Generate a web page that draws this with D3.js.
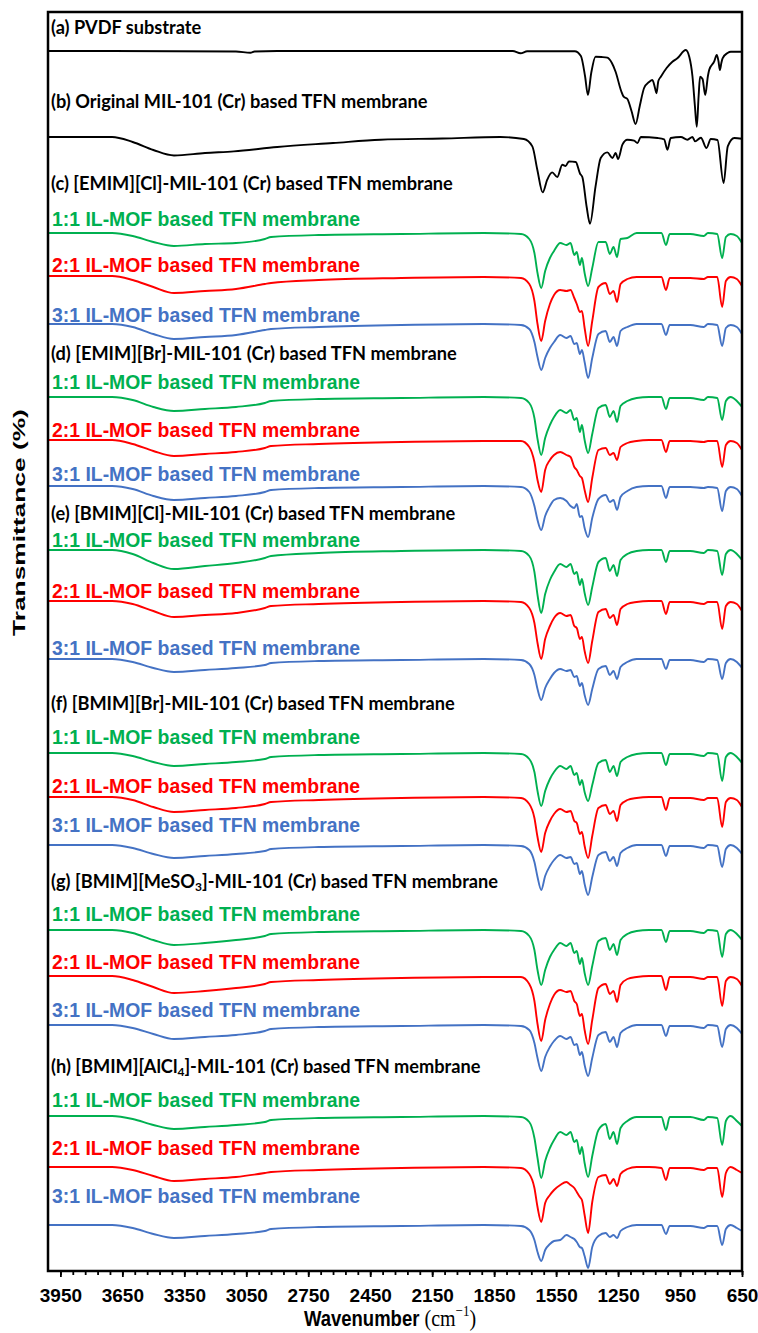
<!DOCTYPE html>
<html>
<head>
<meta charset="utf-8">
<script src="https://cdn.jsdelivr.net/npm/d3@7"></script>
<style>
  body { margin: 0; background: #fff; }
</style>
</head>
<body>
<div id="chart"></div>
<script>
// ---- data (transmittance, %; each trace is 100 on its flat baseline) ----
const wnPVDF = [4010, 3700, 3100, 3030, 3010, 2900, 1760, 1722, 1690, 1460, 1430, 1410, 1396, 1380, 1359, 1330, 1302, 1280, 1262, 1235,
	1223, 1205, 1185, 1165, 1145, 1124, 1100, 1084, 1070, 1064, 1055, 1043, 1015, 987, 963, 922, 905, 890, 878, 869,
	860, 853, 841, 828, 815, 809, 785, 772, 764, 757, 750, 744, 720, 704, 650];
const tPVDF = [100, 100, 99.95, 99.83, 99.95, 100, 100, 99.77, 99.97, 99.97, 99.5, 97.5, 95.6, 97.8, 99.43, 99.4, 99.33, 98.8, 97.93, 96,
	95.43, 95.2, 94, 92.7, 94.5, 96.3, 96.9, 97.1, 96.2, 95.77, 97, 97.43, 98.3, 98.93, 99.27, 100.1, 99.4, 97.5, 94.5, 92.43,
	95.5, 97.43, 97.2, 95.6, 97.5, 98.1, 98.93, 99.6, 99, 98.1, 98.8, 99.27, 99.8, 99.93, 99.93];

const wnMIL = [4010, 3700, 3600, 3500, 3400, 3250, 3110, 2900, 2630, 2400, 2100, 1820, 1706, 1665, 1641, 1615, 1593, 1569, 1544, 1520,
	1504, 1488, 1455, 1434, 1423, 1402, 1386, 1359, 1334, 1302, 1277, 1262, 1250, 1229, 1205, 1172, 1156, 1140, 1059, 1027,
	1011, 995, 946, 914, 890, 877, 849, 822, 801, 769, 739, 719, 687, 650];
const tMIL = [100, 100, 99.5, 98.7, 98.15, 98.4, 98.56, 99, 99.4, 99.73, 99.85, 100, 99.8, 99.06, 96.73, 94.46, 95.73, 96.46, 96, 97.23,
	97.1, 97.56, 97.5, 96.33, 96, 93, 91.33, 95.06, 97.9, 98.46, 97.9, 98.4, 97.8, 99.23, 99.73, 99.63, 99.4, 100, 99.9, 99.77,
	98.73, 99.9, 100, 99.73, 100, 99.56, 99.93, 98.9, 99.8, 99.7, 95.4, 99.06, 99.9, 99.83];

// IL-MOF based membranes share one wavenumber grid
const wnIL = [4010, 3700, 3600, 3500, 3400, 3250, 3100, 2960, 2930, 2700, 2300, 1900, 1720, 1680, 1655, 1640, 1622, 1603, 1580, 1560,
	1530, 1500, 1480, 1462, 1450, 1435, 1425, 1412, 1395, 1375, 1345, 1310, 1290, 1272, 1255, 1238, 1205, 1160, 1100, 1040,
	1018, 1000, 900, 835, 815, 770, 746, 728, 705, 675, 650];

const tC11 = [100,100,99.7,99.1,98.7,98.9,99,99.4,99.6,99.8, 99.9,100,99.9,99.4,98,96,94.5,96.2,97.5,98.2, 99,98.8,99,97.8,98.1,96.8,97.5,96,94.7,96.5, 99.1,99.1,97.9,98.6,97.6,99.4,99.5,100,100,100, 98.8,99.9,99.9,99.7,100,99.9,97.5,99.6,99.9,99.7,99];
const tC21 = [100,100,99.6,98.9,98.3,98.5,98.7,99.2,99.3,99.6, 99.8,99.9,99.8,99.2,97.5,95.2,93.5,95.5,97.2,98.1, 98.6,98.5,98.6,97.8,97.2,96.4,96.5,94.8,93,95.5, 98.9,99.3,98.2,98.5,97.4,99.2,99.7,99.9,99.9,99.9, 98.6,99.8,99.8,99.7,99.9,99.9,96.9,99.5,99.9,99.7,99];
const tC31 = [100,100,99.7,99,98.5,98.7,98.9,99.4,99.5,99.7, 99.9,100,99.9,99.5,98.2,96.7,95.4,96.6,97.6,98.2, 98.9,98.6,98.8,98,98.1,97,97.4,96.2,94.6,96.6, 99,99.3,98.2,98.7,97.8,99.3,99.7,100,100,100, 98.9,99.9,99.9,99.7,100,99.9,97.8,99.6,99.9,99.7,99];

const tD11 = [100,100,99.7,99,98.6,98.8,99,99.4,99.6,99.8, 99.9,100,99.9,99.4,97.9,95.8,94.2,95.9,97.2,98, 98.7,98.4,98.7,97.7,97.9,96.5,97.2,95.7,94.4,96.3, 98.9,99.2,98,98.6,97.5,99.1,99.6,99.9,100,100, 98.8,99.9,99.9,99.7,100,99.9,97.7,99.6,100,99.6,99];
const tD21 = [100,100,99.6,98.9,98.4,98.6,98.8,99.2,99.4,99.6, 99.8,99.9,99.9,99.3,97.8,96,94.8,97,98,98.5, 98.8,98.5,98.3,97.3,97,96.4,96.2,95,93.8,96.2, 99,99.2,98.5,98.7,98,99.3,99.7,99.9,100,100, 98.8,99.9,99.9,99.8,99.9,99.9,97.3,99.5,99.9,99.7,99];
const tD31 = [100,100,99.7,99,98.6,98.8,99,99.4,99.6,99.8, 99.9,100,99.9,99.4,98,96.6,95.6,97,98,98.6, 98.8,98.5,98,97.8,98.2,96.9,97,95.8,94.9,96.8, 98.7,99.1,98.4,98.6,97.6,98.9,99.5,99.9,100,100, 98.8,99.9,99.9,99.8,99.9,99.8,97.5,99.5,99.9,99.7,99];

const tE11 = [100,100,99.6,98.7,98.1,98.4,98.7,99.2,99.4,99.7, 99.9,100,99.9,99.4,97.8,95.5,93.7,95.6,97,97.8, 98.6,98.3,98.6,97.6,97.8,96.5,97.1,95.7,94.5,96.3, 98.8,99.2,97.9,98.5,97.4,99,99.6,99.9,100,100, 98.8,99.9,99.9,99.7,100,99.9,97.5,99.6,100,99.6,99];
const tE21 = [100,100,99.7,99,98.4,98.6,98.8,99.3,99.5,99.7, 99.9,100,99.9,99.3,97.8,95.8,94.2,96.2,97.5,98.3, 98.8,98.5,98.6,97.5,97.3,96.2,96.4,95,93.8,96, 98.9,99.2,98.3,98.6,97.6,99.2,99.7,99.9,100,100, 98.7,99.9,99.9,99.7,99.9,99.9,97.2,99.5,99.9,99.7,99];
const tE31 = [100,100,99.7,99.1,98.7,98.9,99.1,99.4,99.6,99.8, 99.9,100,99.9,99.5,98.4,97,95.9,97.1,98,98.6, 99,98.8,98.9,98.2,98.3,97.3,97.6,96.4,95.4,97, 99,99.3,98.4,98.8,98,99.2,99.7,100,100,100, 99,99.9,99.9,99.7,100,99.9,98,99.6,100,99.7,99.1];

const tF11 = [100,100,99.7,99.1,98.7,98.9,99.1,99.4,99.6,99.8, 99.9,100,99.9,99.4,98.1,96.2,94.7,96.2,97.4,98.1, 98.7,98.4,98.7,97.8,98,96.8,97.3,96.1,95.2,96.8, 99,99.3,98.1,98.7,97.7,99.1,99.6,99.9,100,100, 98.8,99.9,99.9,99.7,100,99.9,97.2,99.6,100,99.6,99];
const tF21 = [100,100,99.7,99,98.5,98.7,98.9,99.3,99.5,99.7, 99.9,100,99.9,99.3,97.9,96,94.5,96.4,97.6,98.3, 98.8,98.5,98.6,97.6,97.4,96.3,96.5,95.1,93.9,96.1, 98.9,99.2,98.3,98.6,97.6,99.2,99.7,99.9,100,100, 98.7,99.9,99.9,99.7,99.9,99.9,97,99.5,99.9,99.7,99];
const tF31 = [100,100,99.7,99.1,98.7,98.9,99.1,99.4,99.6,99.8, 99.9,100,99.9,99.5,98.3,96.8,95.5,96.9,97.9,98.5, 99,98.7,98.8,98.1,98.2,97.1,97.4,96.1,95,96.8, 99,99.3,98.4,98.8,97.9,99.2,99.7,100,100,100, 98.9,99.9,99.9,99.7,100,99.9,97.8,99.6,100,99.7,99.1];

const tG11 = [100,100,99.7,99,98.5,98.7,99,99.4,99.6,99.8, 99.9,100,99.9,99.4,98,96,94.5,96,97.3,98, 98.7,98.4,98.7,97.7,97.9,96.6,97.2,95.7,94.5,96.4, 98.9,99.2,98,98.6,97.5,99,99.6,99.9,100,100, 98.8,99.9,99.9,99.7,100,99.9,97.3,99.6,100,99.6,99];
const tG21 = [100,100,99.6,98.9,98.3,98.5,98.8,99.2,99.4,99.6, 99.8,99.9,99.9,99.2,97.5,95.2,93.5,95.6,97.2,98.1, 98.6,98.4,98.5,97.5,97.2,96,96.2,94.6,93.2,95.6, 98.8,99.2,98.2,98.5,97.4,99.1,99.7,99.9,100,100, 98.6,99.9,99.9,99.7,99.9,99.9,97,99.5,99.9,99.7,99];
const tG31 = [100,100,99.7,99.1,98.6,98.8,99,99.4,99.6,99.8, 99.9,100,99.9,99.5,98.2,96.7,95.4,96.8,97.8,98.4, 98.9,98.6,98.8,98,98.1,97,97.3,96,94.9,96.7, 99,99.3,98.3,98.8,97.8,99.2,99.7,100,100,100, 98.9,99.9,99.9,99.7,100,99.9,97.8,99.6,100,99.7,99.1];

const tH11 = [100,100,99.7,99.1,98.7,98.9,99.1,99.4,99.6,99.8, 99.9,100,99.9,99.4,97.8,95.8,93.8,95.5,96.8,97.6, 98.4,98.1,98.4,97.4,97.6,96.2,96.9,95.3,93.9,96, 98.6,99.2,97.7,98.4,97.2,98.8,99.5,99.9,99.9,99.9, 98.6,99.9,99.9,99.6,99.9,99.8,97.1,99.5,100,99.5,99];
const tH21 = [100,100,99.7,99.1,98.6,98.8,99,99.4,99.5,99.7, 99.9,100,99.9,99.3,97.9,96,94.5,96.4,97.2,97.7, 98.2,98.5,98.2,97.9,97.5,97,96.7,95.2,93.4,96.5, 99,99.2,98.3,98.8,98.1,99.3,99.8,100,100,99.9, 98.7,99.9,99.9,99.7,99.9,99.9,97,99.4,100,99.7,99.4];
const tH31 = [100,100,99.7,99.1,98.7,98.9,99.1,99.4,99.6,99.8, 99.9,100,99.9,99.5,98.5,97.3,96.4,97.5,98.1,98.4, 98.5,99,98.8,98.6,98.3,97.8,97.7,96.9,95.7,97.8, 98.9,99.2,98.8,99,98.7,99.4,99.8,100,100,100, 99.1,99.9,99.9,99.7,99.9,99.9,98,99.6,100,99.7,99.4];

// stacking offsets (transmittance units) for the traces, top to bottom
const offsetPVDF = 122.0;
const offsetMIL = 113.4;
const ilOffsets = [
	[103.8, 99.5, 94.7],
	[87.4, 83.1, 78.5],
	[72.1, 67.0, 61.2],
	[51.8, 47.4, 42.6],
	[34.1, 29.5, 24.6],
	[15.5, 10.4, 4.6]
];
const ilTraces = [
	[tC11, tC21, tC31],
	[tD11, tD21, tD31],
	[tE11, tE21, tE31],
	[tF11, tF21, tF31],
	[tG11, tG21, tG31],
	[tH11, tH21, tH31]
];

const headers = [
	"(a) PVDF substrate",
	"(b) Original MIL-101 (Cr) based TFN membrane",
	"(c) [EMIM][Cl]-MIL-101 (Cr) based TFN membrane",
	"(d) [EMIM][Br]-MIL-101 (Cr) based TFN membrane",
	"(e) [BMIM][Cl]-MIL-101 (Cr) based TFN membrane",
	"(f) [BMIM][Br]-MIL-101 (Cr) based TFN membrane",
	"(g) [BMIM][MeSO_3]-MIL-101 (Cr) based TFN membrane",
	"(h) [BMIM][AlCl_4]-MIL-101 (Cr) based TFN membrane"
];
// annotation levels (transmittance units) where the labels were placed
const headerLevel = [123.7, 116.3, 108.1, 91.1, 75.1, 56.1, 38.3, 19.8];
const ratioLabelLevel = [
	[104.55, 99.95, 94.95],
	[88.25, 83.45, 79.05],
	[72.4, 67.3, 61.6],
	[52.75, 47.85, 43.95],
	[35.05, 30.25, 25.45],
	[16.45, 11.65, 6.85]
];
const ratioLabels = ["1:1 IL-MOF based TFN membrane", "2:1 IL-MOF based TFN membrane", "3:1 IL-MOF based TFN membrane"];
const ratioColors = ["#00B050", "#FF0000", "#4472C4"];

const majorTicks = d3.range(650, 3951, 300);
const minorTicks = d3.range(650, 3951, 60);

// ---- chart ----
const width = 758;
const height = 1333;
const plot = { left: 48, right: 742, top: 12, bottom: 1271 };

const svg = d3
	.select("#chart")
	.append("svg")
	.attr("width", width)
	.attr("height", height)
	.style("font-family", "'Liberation Sans', Arial, sans-serif");

const x = d3.scaleLinear().domain([4010, 650]).range([plot.left, plot.right]);
const y = d3.scaleLinear().domain([0, 125.9]).range([plot.bottom, plot.top]);

function trace(wn, t, offset) {
	return d3
		.line()
		.x((d) => x(d[0]))
		.y((d) => y(offset + d[1] - 100))
		.curve(d3.curveMonotoneX)(d3.zip(wn, t));
}

const lines = svg.append("g").attr("fill", "none").attr("stroke-width", 1.9).attr("stroke-linejoin", "round");

lines.append("path").attr("d", trace(wnPVDF, tPVDF, offsetPVDF)).attr("stroke", "#000");
lines.append("path").attr("d", trace(wnMIL, tMIL, offsetMIL)).attr("stroke", "#000");

ilTraces.forEach((group, g) => {
	group.forEach((t, k) => {
		lines
			.append("path")
			.attr("d", trace(wnIL, t, ilOffsets[g][k]))
			.attr("stroke", ratioColors[k]);
	});
});

// black group headers
const headerText = svg
	.append("g")
	.selectAll("text")
	.data(headers)
	.enter()
	.append("text")
	.attr("x", 51)
	.attr("y", (d, i) => y(headerLevel[i]))
	.style("font-family", "Lato, 'Open Sans', sans-serif")
	.style("font-weight", 700)
	.style("font-size", "18.2px")
	.attr("fill", "#000");

headerText.each(function (d) {
	const el = d3.select(this);
	d.split(/_(\d)/).forEach((part, i) => {
		if (i % 2 === 1) {
			el.append("tspan").attr("font-size", "12px").attr("dy", 3).text(part);
		} else if (i > 0) {
			el.append("tspan").attr("dy", -3).text(part);
		} else {
			el.append("tspan").text(part);
		}
	});
});

// coloured ratio labels
ratioLabelLevel.forEach((row) => {
	row.forEach((lv, k) => {
		svg
			.append("text")
			.attr("x", 52)
			.attr("y", y(lv))
			.attr("fill", ratioColors[k])
			.style("font-weight", 700)
			.style("font-size", "19.4px")
			.text(ratioLabels[k]);
	});
});

// x axis: major + minor ticks
const xAxis = svg
	.append("g")
	.attr("transform", `translate(0,${plot.bottom})`)
	.call(d3.axisBottom(x).tickValues(majorTicks).tickSize(6).tickFormat(d3.format("d")));
xAxis.select(".domain").remove();
xAxis.selectAll(".tick line").attr("stroke", "#000").attr("stroke-width", 1.8);
xAxis
	.selectAll(".tick text")
	.attr("y", 30.5)
	.attr("dy", null)
	.attr("fill", "#000")
	.style("font-size", "19px")
	.style("font-weight", 700)
	.style("font-family", "'Liberation Sans', Arial, sans-serif");

const xMinor = svg
	.append("g")
	.attr("transform", `translate(0,${plot.bottom})`)
	.call(d3.axisBottom(x).tickValues(minorTicks).tickSize(4).tickFormat(""));
xMinor.select(".domain").remove();
xMinor.selectAll(".tick line").attr("stroke", "#000").attr("stroke-width", 1.8);

// frame
svg
	.append("rect")
	.attr("x", plot.left)
	.attr("y", plot.top)
	.attr("width", plot.right - plot.left)
	.attr("height", plot.bottom - plot.top)
	.attr("fill", "none")
	.attr("stroke", "#000")
	.attr("stroke-width", 2.5);

// axis titles (stretched like the original text boxes)
const serif = "'Liberation Serif', 'DejaVu Serif', serif";
const xTitle = svg
	.append("text")
	.attr("transform", "translate(390,1326) scale(1,1.2)")
	.attr("text-anchor", "middle")
	.attr("fill", "#000");
xTitle.append("tspan").style("font-weight", 700).style("font-size", "18.5px").text("Wavenumber ");
xTitle.append("tspan").style("font-family", serif).style("font-size", "20px").text("(cm");
xTitle.append("tspan").style("font-family", serif).style("font-size", "13px").attr("dy", -8).text("\u22121");
xTitle.append("tspan").style("font-family", serif).style("font-size", "20px").attr("dy", 8).text(")");

svg
	.append("text")
	.attr("transform", "translate(25,522.5) rotate(-90) scale(1.55,1)")
	.attr("text-anchor", "middle")
	.attr("fill", "#000")
	.style("font-weight", 700)
	.style("font-size", "17px")
	.text("Transmittance (%)");
</script>
</body>
</html>
